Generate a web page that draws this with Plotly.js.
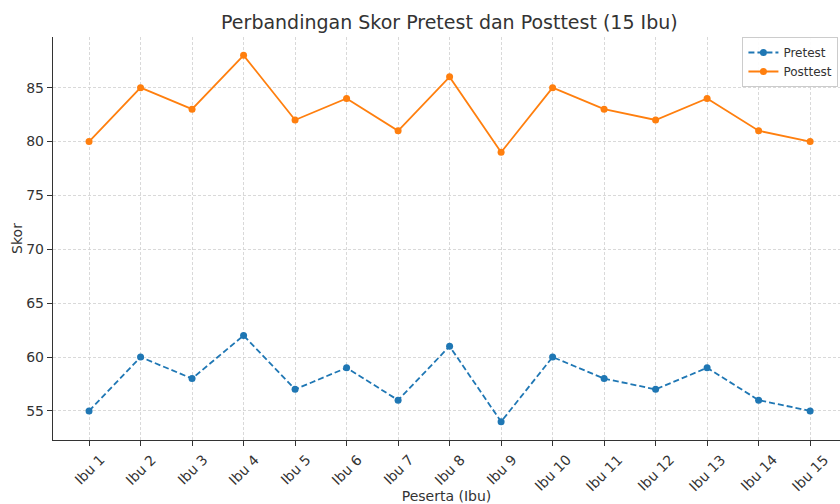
<!DOCTYPE html>
<html>
<head>
<meta charset="utf-8">
<script src="https://cdn.plot.ly/plotly-3.0.1.min.js"></script>
<style>html,body{margin:0;padding:0;background:#fff;}#chart{width:840px;height:504px;}</style>
</head>
<body>
<div id="chart"></div>
<script>
const participants = ["Ibu 1","Ibu 2","Ibu 3","Ibu 4","Ibu 5","Ibu 6","Ibu 7","Ibu 8","Ibu 9","Ibu 10","Ibu 11","Ibu 12","Ibu 13","Ibu 14","Ibu 15"];
const pretest = [55,60,58,62,57,59,56,61,54,60,58,57,59,56,55];
const posttest = [80,85,83,88,82,84,81,86,79,85,83,82,84,81,80];
const yTicks = [55,60,65,70,75,80,85];

const font = "DejaVu Sans, Liberation Sans, sans-serif";
const traces = [
  {x: participants, y: pretest, name: "Pretest", type: "scatter", mode: "lines+markers",
   line: {color: "#1f77b4", width: 1.8, dash: "6px,3px"}, marker: {color: "#1f77b4", size: 7}},
  {x: participants, y: posttest, name: "Posttest", type: "scatter", mode: "lines+markers",
   line: {color: "#ff7f0e", width: 1.8}, marker: {color: "#ff7f0e", size: 7}}
];
// rotated category labels centred on their ticks (matplotlib style)
const tickAnnotations = participants.map(p => ({
  x: p, xref: "x", y: 0, yref: "paper", yshift: -9,
  text: p, showarrow: false, textangle: -45,
  xanchor: "center", yanchor: "top",
  font: {size: 14, color: "#333", family: font}
}));
const layout = {
  width: 840, height: 504,
  margin: {l: 53, r: 0, t: 37, b: 64, autoexpand: false},
  paper_bgcolor: "#fff", plot_bgcolor: "#fff",
  font: {family: font, color: "#333", size: 14},
  title: {text: "Perbandingan Skor Pretest dan Posttest (15 Ibu)", x: 0.535, xanchor: "center", y: 0.955, yanchor: "middle", font: {size: 19, color: "#333", family: font}},
  xaxis: {
    type: "category", range: [-0.7, 14.58],
    showline: true, linecolor: "#333", linewidth: 1.2, mirror: false,
    ticks: "outside", ticklen: 5, tickcolor: "#333", showticklabels: false,
    showgrid: true, gridcolor: "#cfcfcf", griddash: "3px,2px", gridwidth: 0.8,
    zeroline: false, automargin: false,
    title: {text: "Peserta (Ibu)", font: {size: 14, color: "#333"}, standoff: 52}
  },
  yaxis: {
    range: [52.3, 89.7], tickvals: yTicks,
    showline: true, linecolor: "#333", linewidth: 1.2, mirror: false,
    ticks: "outside", ticklen: 5, tickcolor: "#333",
    showgrid: true, gridcolor: "#cfcfcf", griddash: "3px,2px", gridwidth: 0.8,
    zeroline: false, tickfont: {size: 14, color: "#333"}, automargin: false,
    title: {text: "Skor", font: {size: 14, color: "#333"}, standoff: 0}
  },
  annotations: tickAnnotations,
  showlegend: true,
  legend: {x: 0.998, xanchor: "right", y: 1.0, yanchor: "top", bgcolor: "rgba(255,255,255,0.9)", bordercolor: "#ccc", borderwidth: 1, font: {size: 12, color: "#333"}, tracegroupgap: 0, itemwidth: 30}
};
Plotly.newPlot("chart", traces, layout, {displayModeBar: false, staticPlot: true});
</script>
</body>
</html>
